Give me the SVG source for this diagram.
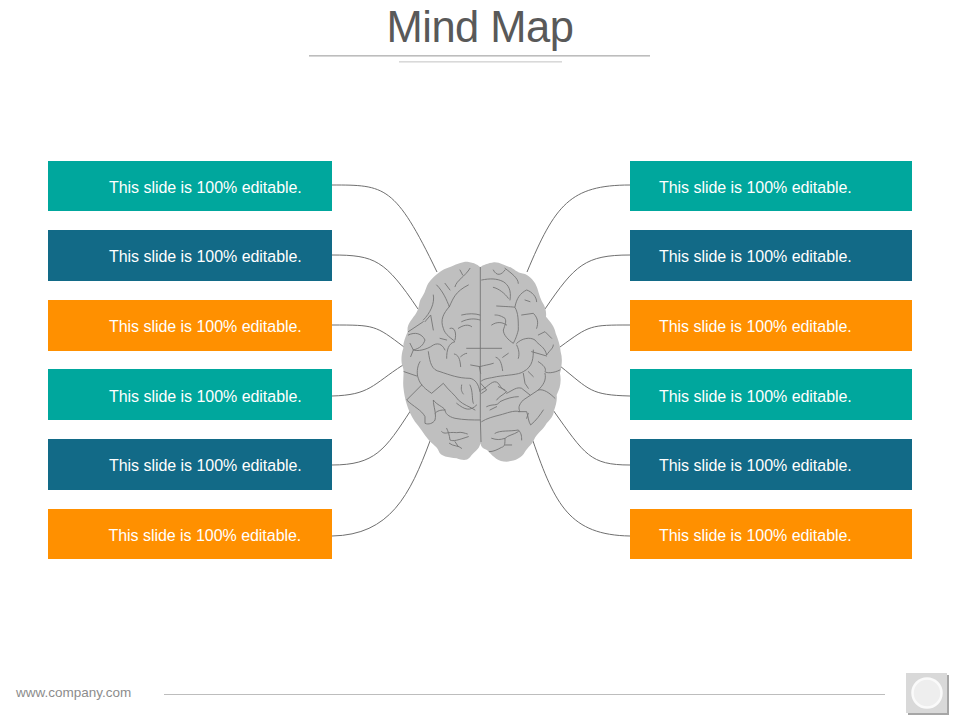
<svg xmlns="http://www.w3.org/2000/svg" width="960" height="720" viewBox="0 0 960 720">
<style>
text{font-family:"Liberation Sans",Arial,sans-serif}
.b{fill:#fff;font-size:16px;letter-spacing:-.04px}
.t{fill:#00a79d}.n{fill:#126a87}.o{fill:#ff9000}
.c{fill:none;stroke:#6f6f6f;stroke-width:1}
.s{fill:none;stroke:#757575;stroke-width:2.7;stroke-linecap:round;stroke-linejoin:round}
</style>
<rect width="960" height="720" fill="#fff"/>
<g id="title">
<text x="480" y="42" text-anchor="middle" font-size="43.500" fill="#595959" letter-spacing="-.5">Mind Map</text>
<rect x="309" y="55" width="341" height="1.6" fill="#bdbdbd"/>
<rect x="399" y="61" width="163" height="1.6" fill="#d9d9d9"/>
</g>
<g id="connectors">
<path class="c" d="M332 185C385 185 395 185 437 272"/>
<path class="c" d="M332 255C375 255 385 260 418 309"/>
<path class="c" d="M332 325C375 325 375 325 404 347"/>
<path class="c" d="M332 396C370 395 372 385 403 365"/>
<path class="c" d="M332 465C375 465 385 450 411 410"/>
<path class="c" d="M332 536C390 535 410 495 430 441"/>
<path class="c" d="M630 185C570 185 555 205 527 272"/>
<path class="c" d="M630 255C585 255 575 265 545 309"/>
<path class="c" d="M630 325C590 325 590 325 560 347"/>
<path class="c" d="M630 396C590 395 590 390 560 366"/>
<path class="c" d="M630 465C590 465 585 455 553 410"/>
<path class="c" d="M630 536C570 535 555 505 533 441"/>
</g>
<g id="node-l1"><rect class="t" x="48" y="161" width="284" height="50"/><text class="b" x="109" y="193">This slide is 100% editable.</text></g>
<g id="node-l2"><rect class="n" x="48" y="230" width="284" height="51"/><text class="b" x="109" y="262">This slide is 100% editable.</text></g>
<g id="node-l3"><rect class="o" x="48" y="300" width="284" height="51"/><text class="b" x="109" y="332">This slide is 100% editable.</text></g>
<g id="node-l4"><rect class="t" x="48" y="369" width="284" height="51"/><text class="b" x="109" y="402">This slide is 100% editable.</text></g>
<g id="node-l5"><rect class="n" x="48" y="439" width="284" height="51"/><text class="b" x="109" y="471">This slide is 100% editable.</text></g>
<g id="node-l6"><rect class="o" x="48" y="509" width="284" height="50"/><text class="b" x="108.500" y="541">This slide is 100% editable.</text></g>
<g id="node-r1"><rect class="t" x="630" y="161" width="282" height="50"/><text class="b" x="659" y="193">This slide is 100% editable.</text></g>
<g id="node-r2"><rect class="n" x="630" y="230" width="282" height="51"/><text class="b" x="659" y="262">This slide is 100% editable.</text></g>
<g id="node-r3"><rect class="o" x="630" y="300" width="282" height="51"/><text class="b" x="659" y="332">This slide is 100% editable.</text></g>
<g id="node-r4"><rect class="t" x="630" y="369" width="282" height="51"/><text class="b" x="659" y="402">This slide is 100% editable.</text></g>
<g id="node-r5"><rect class="n" x="630" y="439" width="282" height="51"/><text class="b" x="659" y="471">This slide is 100% editable.</text></g>
<g id="node-r6"><rect class="o" x="630" y="509" width="282" height="50"/><text class="b" x="659" y="541">This slide is 100% editable.</text></g>
<g id="brain" transform="translate(390 250) scale(.3333)">
<path fill="#bfbfbf" d="M271 52C262 42 245 35 225 35C205 38 190 48 170 55C150 62 128 82 115 100C105 118 108 125 92 148C85 162 90 175 75 195C62 212 50 225 53 245C46 262 38 280 40 295C34 312 32 335 38 350C44 365 38 385 40 410C42 430 45 445 50 462C55 480 62 495 75 515C88 530 100 550 118 572C130 585 142 590 146 603C152 620 175 622 200 625C215 630 228 635 240 622C252 605 268 600 271 580C276 600 288 595 296 605C310 620 325 635 350 635C375 632 395 625 405 605C415 590 425 585 432 570C440 550 460 540 470 520C482 505 490 500 492 482C498 465 502 450 500 435C510 415 515 395 510 370C516 345 518 325 512 305C510 285 505 270 497 250C494 228 480 215 468 200C470 185 465 172 462 165C452 150 448 135 442 115C436 95 420 78 405 72C385 70 378 62 362 52C345 48 330 36 312 37C295 40 278 45 271 52Z"/>
<g class="s">
<path d="M271 52V505L273 575"/>
<path d="M140 105C160 125 170 150 178 170M178 170C190 145 195 125 235 105M195 110C200 90 225 80 240 55M210 60L218 75M165 100L180 120"/>
<path d="M178 170C160 190 150 210 160 235C165 255 185 265 195 275C175 280 170 300 170 325M100 210C120 190 135 160 130 135M105 215L122 195L130 240M55 245L100 215M150 265L170 270"/>
<path d="M215 195C235 190 255 190 270 195M215 215C235 205 255 205 270 210M180 235C195 230 200 250 195 270M205 235C220 225 235 222 245 230"/>
<path d="M230 295L335 295M193 312C205 315 210 325 212 350M212 320C218 315 225 310 230 310M242 345L270 350C285 345 295 345 310 340M268 350L272 370M318 322C330 325 335 340 338 362M338 322L355 310"/>
<path d="M55 255C75 245 95 250 105 270C100 285 90 295 70 300L60 280M70 300C80 305 110 300 130 285C150 275 160 290 165 300M70 300L62 320M115 305C120 340 125 360 150 365C180 375 205 385 240 385C255 388 265 400 270 425"/>
<path d="M90 335C80 350 80 375 85 385C90 405 110 420 125 430L160 400C175 420 195 435 205 450C220 465 240 470 255 480M42 365L80 378M95 405L50 450C70 470 95 480 105 500V520C115 525 130 520 135 510C140 490 130 470 130 450C140 465 160 470 165 480C145 480 140 485 135 490M165 480C165 490 175 500 195 505C220 510 250 510 270 510M200 460C225 480 240 485 260 465M215 405C212 420 215 425 220 432M240 405C250 425 245 450 250 460"/>
<path d="M155 545C165 555 170 545 200 548C215 545 225 550 232 552M170 535C175 545 178 555 180 570C190 575 205 570 235 560M178 580C190 590 205 585 215 595M195 575L205 590"/>
<path d="M275 90C300 85 320 85 340 95C355 105 365 120 360 150M310 112C325 115 345 130 355 145M310 60C320 80 335 75 345 60M345 55C365 70 385 85 385 100M320 168C350 170 365 170 375 172C385 190 385 210 385 240C380 260 375 270 370 280C355 270 340 255 340 240C345 225 350 215 345 205C330 195 320 195 315 195M375 170C380 145 390 130 410 120C425 125 440 140 440 155M405 150L420 155M395 195L430 190C445 205 445 220 440 235M350 225C335 215 320 215 305 225"/>
<path d="M380 280C395 265 420 260 435 270C445 285 465 290 470 315C480 300 490 295 490 285M445 255L465 245L485 265M425 305L470 318M380 285C385 295 390 310 385 325M430 300C430 320 430 350 400 365C385 375 350 375 320 380C300 385 280 385 272 395M445 335C460 345 470 355 465 365C470 370 490 370 510 360M400 370L405 400L415 415M415 365L430 380M465 370C470 390 460 405 445 420L400 450C385 465 385 475 390 485C370 480 350 490 330 495C310 500 290 505 275 515"/>
<path d="M275 420C295 410 310 385 325 400C335 415 340 420 350 425C340 435 325 440 320 450M325 410L345 420M350 430C370 420 380 410 395 415L420 435M290 470C310 460 320 470 330 455C350 445 370 440 385 440M300 480L320 470M445 420C460 415 480 430 495 445M385 485L410 485C415 500 415 515 422 525C440 510 450 495 460 480M415 490L410 505M272 400L290 420L275 430"/>
<path d="M315 550C330 540 360 545 385 540C395 550 395 560 395 570M305 565C320 570 330 570 345 565C345 580 345 590 335 592C320 600 310 605 298 605M345 565C355 555 370 555 385 545M345 585L365 585"/>
</g>
</g>
<g id="footer">
<text x="16" y="697" font-size="13.500" fill="#8c8c8c">www.company.com</text>
<rect x="164" y="694" width="721" height="1" fill="#bdbdbd"/>
<rect x="908" y="675" width="41" height="40" fill="#a6a6a6"/>
<rect x="906" y="673" width="41" height="40" fill="#d9d9d9"/>
<circle cx="927" cy="693" r="14.500" fill="#eeeeee" stroke="#fafafa" stroke-width="2.500"/>
</g>
</svg>
